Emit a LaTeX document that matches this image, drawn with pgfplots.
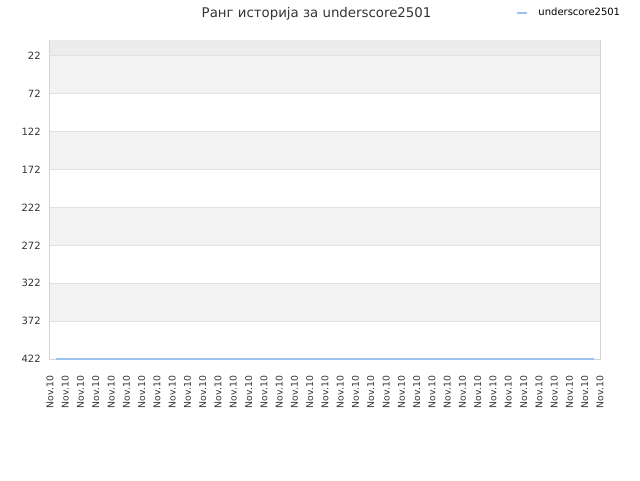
\documentclass[border=0pt]{standalone}
\usepackage{pgfplots}
\pgfplotsset{compat=1.18}
\usepackage{fontspec}
\setmainfont{DejaVu Sans}
\definecolor{bandgray}{HTML}{F3F3F3}
\definecolor{topgray}{HTML}{ECECEC}
\definecolor{gridgray}{HTML}{E0E0E0}
\definecolor{framegray}{HTML}{D4D4D4}
\definecolor{textgray}{HTML}{333333}
\definecolor{lineblue}{HTML}{99C2EE}
\begin{document}
\begin{tikzpicture}
\useasboundingbox (0pt,0pt) rectangle (480pt,360pt);
\begin{axis}[
  at={(37.5pt,90.75pt)}, anchor=south west,
  scale only axis, width=412.5pt, height=239.25pt,
  xmin=0, xmax=36, ymin=1, ymax=422, y dir=reverse,
  ytick={22,72,122,172,222,272,322,372,422},
  xtick={0,...,36},
  xticklabels={Nov.10,Nov.10,Nov.10,Nov.10,Nov.10,Nov.10,Nov.10,Nov.10,Nov.10,Nov.10,Nov.10,Nov.10,Nov.10,Nov.10,Nov.10,Nov.10,Nov.10,Nov.10,Nov.10,Nov.10,Nov.10,Nov.10,Nov.10,Nov.10,Nov.10,Nov.10,Nov.10,Nov.10,Nov.10,Nov.10,Nov.10,Nov.10,Nov.10,Nov.10,Nov.10,Nov.10,Nov.10},
  x tick label style={yshift=-9pt, rotate=90, anchor=east, font=\fontsize{7}{8}\selectfont, text=textgray},
  y tick label style={xshift=-3.5pt, font=\fontsize{7.5}{8}\selectfont, text=textgray},
  /pgf/number format/assume math mode=true,
  major tick length=0pt,
  axis line style={framegray, line width=0.75pt},
  legend style={at={(rel axis cs:0.846,1.085)}, anchor=west, draw=none, fill=none,
    font=\fontsize{7.5}{8}\selectfont, inner sep=0pt},
  legend image code/.code={\draw[#1, line width=1.5pt] (0pt,0pt) -- (7.5pt,0pt); \path (14pt,0pt);},
]
\fill[topgray] (axis cs:0,1) rectangle (axis cs:36,22);
\fill[bandgray] (axis cs:0,22) rectangle (axis cs:36,72);
\fill[bandgray] (axis cs:0,122) rectangle (axis cs:36,172);
\fill[bandgray] (axis cs:0,222) rectangle (axis cs:36,272);
\fill[bandgray] (axis cs:0,322) rectangle (axis cs:36,372);
\draw[gridgray, line width=0.75pt] (axis cs:0,22) -- (axis cs:36,22);
\draw[gridgray, line width=0.75pt] (axis cs:0,72) -- (axis cs:36,72);
\draw[gridgray, line width=0.75pt] (axis cs:0,122) -- (axis cs:36,122);
\draw[gridgray, line width=0.75pt] (axis cs:0,172) -- (axis cs:36,172);
\draw[gridgray, line width=0.75pt] (axis cs:0,222) -- (axis cs:36,222);
\draw[gridgray, line width=0.75pt] (axis cs:0,272) -- (axis cs:36,272);
\draw[gridgray, line width=0.75pt] (axis cs:0,322) -- (axis cs:36,322);
\draw[gridgray, line width=0.75pt] (axis cs:0,372) -- (axis cs:36,372);
\addplot[lineblue, line width=0.9pt] coordinates {
(0.4,422)(1,422)(2,422)(3,422)(4,422)(5,422)(6,422)(7,422)(8,422)(9,422)
(10,422)(11,422)(12,422)(13,422)(14,422)(15,422)(16,422)(17,422)(18,422)
(19,422)(20,422)(21,422)(22,422)(23,422)(24,422)(25,422)(26,422)(27,422)
(28,422)(29,422)(30,422)(31,422)(32,422)(33,422)(34,422)(35,422)(35.6,422)};
\addlegendentry{underscore2501}
\end{axis}
\node[text=textgray, font=\fontsize{10}{12}\selectfont] at (237.4pt,349.5pt) {Ранг историја за underscore2501};
\end{tikzpicture}
\end{document}
